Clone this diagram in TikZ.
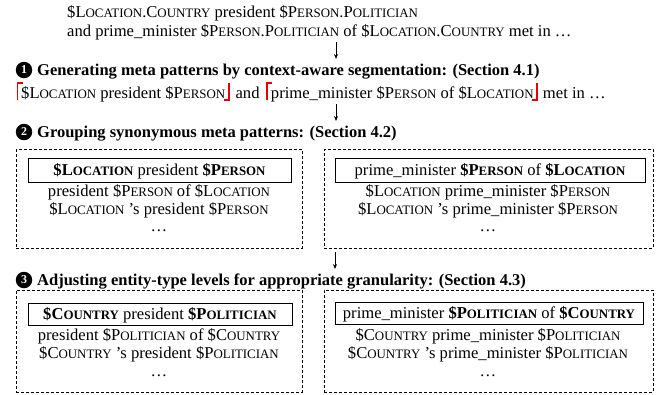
\documentclass[tikz,border=0pt]{standalone}
\usepackage{fontspec}
\setmainfont{Liberation Serif}
\usetikzlibrary{arrows.meta}
\newcommand\fsc[2]{#1{\fontsize{12.9pt}{12.9pt}\selectfont #2}}
\begin{document}
\begin{tikzpicture}[x=1pt,y=-1pt,
  txt/.style={inner sep=0pt, anchor=base west, font=\fontsize{16.6pt}{18pt}\selectfont},
  ctxt/.style={inner sep=0pt, anchor=base, font=\fontsize{16.6pt}{18pt}\selectfont},
  head/.style={inner sep=0pt, anchor=base west, font=\fontsize{16.5pt}{18pt}\selectfont\bfseries},
  bul/.style={circle, fill=black, text=white, inner sep=0pt, minimum size=16.5pt, font=\fontsize{12pt}{12pt}\selectfont\bfseries},
  grp/.style={draw, dash pattern=on 3pt off 2pt, line width=0.8pt, inner sep=0pt},
  pbox/.style={draw, line width=0.9pt, inner sep=0pt, text height=12.5pt, text depth=2.5pt, font=\fontsize{16.6pt}{18pt}\selectfont},
  rbr/.style={draw=red!90!black, line width=1.7pt},
  arr/.style={-{Stealth[length=5pt,width=4pt]}, line width=0.8pt}]
\useasboundingbox (0,0) rectangle (667,394);

% input sentence
\node[txt] (l1) at (67,17) {\$\fsc{L}{OCATION}.\fsc{C}{OUNTRY} president \$\fsc{P}{ERSON}.\fsc{P}{OLITICIAN}};
\node[txt] (l2) at (67,36) {and prime\_minister \$\fsc{P}{ERSON}.\fsc{P}{OLITICIAN} of \$\fsc{L}{OCATION}.\fsc{C}{OUNTRY} met in …};

\coordinate (a1s) at (336,42);
\coordinate (a1e) at (336,59);
\draw[arr] (a1s) -- (a1e);

% step 1
\node[bul] (b1) at (24,70) {1};
\node[head] (h1) at (37,75) {Generating meta patterns by context-aware segmentation: (Section 4.1)};

\node[txt] (s1) at (21,98) {\$\fsc{L}{OCATION} president \$\fsc{P}{ERSON}};
\node[txt] (sand) at ([xshift=10pt]s1.base east) {and};
\node[txt] (s2) at ([xshift=11pt]sand.base east) {prime\_minister \$\fsc{P}{ERSON} of \$\fsc{L}{OCATION}};
\node[txt] (smet) at ([xshift=9pt]s2.base east) {met in …};
\draw[rbr] ([xshift=-3.5pt]s1.base west) ++(0,2) -- ++(0,-17) -- ++(5,0);
\draw[rbr] ([xshift=3.5pt]s1.base east) ++(0,-15) -- ++(0,17) -- ++(-5,0);
\draw[rbr] ([xshift=-3.5pt]s2.base west) ++(0,2) -- ++(0,-17) -- ++(5,0);
\draw[rbr] ([xshift=3.5pt]s2.base east) ++(0,-15) -- ++(0,17) -- ++(-5,0);

\coordinate (a2s) at (336,104);
\coordinate (a2e) at (336,121);
\draw[arr] (a2s) -- (a2e);

% step 2
\node[bul] (b2) at (24,132) {2};
\node[head] (h2) at (37,137) {Grouping synonymous meta patterns: (Section 4.2)};

\node[grp, minimum width=286pt, minimum height=98.5pt] (g1l) at (159,198.75) {};
\node[grp, minimum width=329pt, minimum height=98.5pt] (g1r) at (488.5,198.75) {};

\node[pbox, minimum width=263pt, minimum height=24pt] (p1l) at (159.5,170) {\textbf{\$\fsc{L}{OCATION}} president \textbf{\$\fsc{P}{ERSON}}};
\node[ctxt] (r1l1) at (159,196) {president \$\fsc{P}{ERSON} of \$\fsc{L}{OCATION}};
\node[ctxt] (r1l2) at (159,214) {\$\fsc{L}{OCATION} ’s president \$\fsc{P}{ERSON}};
\node[ctxt] (r1l3) at (159,231) {…};

\node[pbox, minimum width=310pt, minimum height=24pt] (p1r) at (490,170) {prime\_minister \textbf{\$\fsc{P}{ERSON}} of \textbf{\$\fsc{L}{OCATION}}};
\node[ctxt] (r1r1) at (488,196) {\$\fsc{L}{OCATION} prime\_minister \$\fsc{P}{ERSON}};
\node[ctxt] (r1r2) at (488,214) {\$\fsc{L}{OCATION} ’s prime\_minister \$\fsc{P}{ERSON}};
\node[ctxt] (r1r3) at (488,231) {…};

\coordinate (a3s) at (335,252);
\coordinate (a3e) at (335,269);
\draw[arr] (a3s) -- (a3e);

% step 3
\node[bul] (b3) at (24,280) {3};
\node[head] (h3) at (37,285) {Adjusting entity-type levels for appropriate granularity: (Section 4.3)};

\node[grp, minimum width=286pt, minimum height=102pt] (g2l) at (159,341) {};
\node[grp, minimum width=329pt, minimum height=102pt] (g2r) at (488.5,341) {};

\node[pbox, minimum width=264pt, minimum height=22pt] (p2l) at (160,314) {\textbf{\$\fsc{C}{OUNTRY}} president \textbf{\$\fsc{P}{OLITICIAN}}};
\node[ctxt] (r2l1) at (159,340) {president \$\fsc{P}{OLITICIAN} of \$\fsc{C}{OUNTRY}};
\node[ctxt] (r2l2) at (159,358) {\$\fsc{C}{OUNTRY} ’s president \$\fsc{P}{OLITICIAN}};
\node[ctxt] (r2l3) at (159,376) {…};

\node[pbox, minimum width=308pt, minimum height=22pt] (p2r) at (489,313) {prime\_minister \textbf{\$\fsc{P}{OLITICIAN}} of \textbf{\$\fsc{C}{OUNTRY}}};
\node[ctxt] (r2r1) at (488,340) {\$\fsc{C}{OUNTRY} prime\_minister \$\fsc{P}{OLITICIAN}};
\node[ctxt] (r2r2) at (488,358) {\$\fsc{C}{OUNTRY} ’s prime\_minister \$\fsc{P}{OLITICIAN}};
\node[ctxt] (r2r3) at (488,376) {…};
\end{tikzpicture}
\end{document}
